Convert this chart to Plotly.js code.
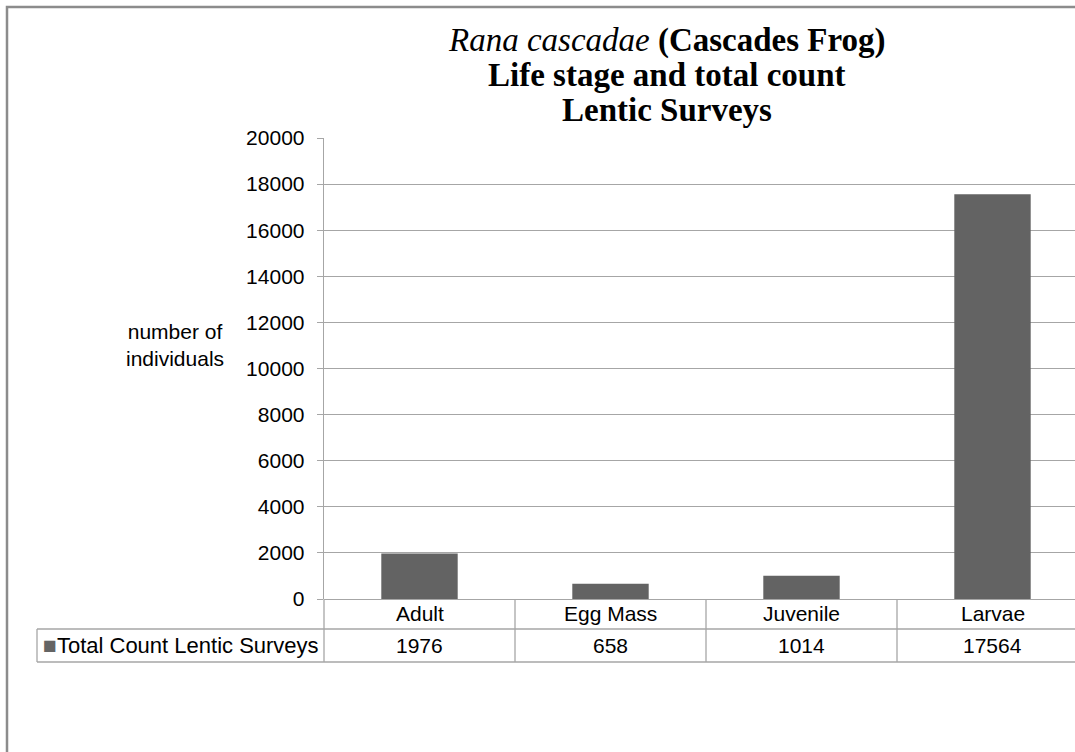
<!DOCTYPE html>
<html>
<head>
<meta charset="utf-8">
<script src="https://cdn.plot.ly/plotly-3.0.1.min.js"></script>
<style>html,body{margin:0;padding:0;background:#fff;overflow:hidden}#chart{width:1075px;height:752px}</style>
</head>
<body>
<div id="chart"></div>
<script>
// ---- data ----
const categories = ['Adult', 'Egg Mass', 'Juvenile', 'Larvae'];
const totalCount = [1976, 658, 1014, 17564];
const seriesName = 'Total Count Lentic Surveys';
const yTickVals = [0, 2000, 4000, 6000, 8000, 10000, 12000, 14000, 16000, 18000, 20000];
const titleLines = ['<i>Rana cascadae</i> <b>(Cascades Frog)</b>', '<b>Life stage and total count</b>', '<b>Lentic Surveys</b>'];
const yTitle = 'number of<br>individuals';

// ---- layout geometry (pixels) ----
const W = 1075, H = 752;
const plotL = 324, plotR = 1075, plotT = 138, plotB = 599;
const colW = 191;
const xRange = [-0.5, -0.5 + (plotR - plotL) / colW];
const px = v => (v - plotL) / (plotR - plotL);
const py = v => (plotB - v) / (plotB - plotT);
const catPaper = c => (c - xRange[0]) / (xRange[1] - xRange[0]);

const grid = '#a6a6a6';
const font = 'Liberation Sans, Arial, sans-serif';
const fs = 21;

const shapes = [];
// outer chart frame (top and left edges visible)
shapes.push({type: 'path', xref: 'paper', yref: 'paper',
  path: `M ${px(7)} ${py(H + 5)} L ${px(7)} ${py(7)} L ${px(W + 5)} ${py(7)}`,
  line: {color: '#8c8c8c', width: 2.5}});
// data table lines
const rowMid = 629, rowBot = 662, legL = 37;
[rowMid, rowBot].forEach(y => shapes.push({type: 'line', xref: 'paper', yref: 'paper',
  x0: px(legL), x1: 1.01, y0: py(y), y1: py(y), line: {color: grid, width: 1.3}}));
shapes.push({type: 'line', xref: 'paper', yref: 'paper', x0: px(legL), x1: px(legL),
  y0: py(rowMid), y1: py(rowBot), line: {color: grid, width: 1.3}});
for (let i = 0; i <= categories.length; i++) {
  const xp = catPaper(i - 0.5);
  shapes.push({type: 'line', xref: 'paper', yref: 'paper', x0: xp, x1: xp,
    y0: py(plotB), y1: py(rowBot), line: {color: grid, width: 1.3}});
}

const annotations = [];
const titleY = [40, 75, 110];
titleLines.forEach((t, i) => annotations.push({xref: 'paper', yref: 'paper', x: px(667), y: py(titleY[i]),
  text: t, showarrow: false, xanchor: 'center', yanchor: 'middle',
  font: {family: 'Liberation Serif, Times New Roman, serif', size: 33, color: '#000'}}));
annotations.push({xref: 'paper', yref: 'paper', x: px(175), y: py(345), text: yTitle, showarrow: false,
  xanchor: 'center', yanchor: 'middle', align: 'center', font: {family: font, size: fs, color: '#000'}});
categories.forEach((c, i) => {
  annotations.push({xref: 'x', yref: 'paper', x: i, y: py(613), text: c, showarrow: false,
    xanchor: 'center', yanchor: 'middle', font: {family: font, size: fs, color: '#000'}});
  annotations.push({xref: 'x', yref: 'paper', x: i, y: py(645), text: String(totalCount[i]), showarrow: false,
    xanchor: 'center', yanchor: 'middle', font: {family: font, size: fs, color: '#000'}});
});
annotations.push({xref: 'paper', yref: 'paper', x: px(321), y: py(645),
  text: '<span style="color:#646464;font-size:23px">■</span>' + seriesName, showarrow: false,
  xanchor: 'right', yanchor: 'middle', font: {family: font, size: 22, color: '#000'}});

const data = [{
  type: 'bar', x: categories.map((c, i) => i), y: totalCount, name: seriesName,
  width: 0.4, marker: {color: '#636363', line: {width: 0}}, hoverinfo: 'none'
}];

const layout = {
  width: W, height: H,
  margin: {l: plotL, r: W - plotR, t: plotT, b: H - plotB, pad: 0},
  paper_bgcolor: '#fff', plot_bgcolor: '#fff', showlegend: false,
  xaxis: {range: xRange, showticklabels: false, showgrid: false, zeroline: false, showline: false, ticks: '', fixedrange: true},
  yaxis: {range: [0, 20000], tickvals: yTickVals, ticktext: yTickVals.map(String),
    showgrid: true, gridcolor: grid, gridwidth: 1, zeroline: true, zerolinecolor: grid, zerolinewidth: 1,
    showline: true, linecolor: grid, linewidth: 1.3, ticks: 'outside', ticklen: 6, tickcolor: grid, tickwidth: 1,
    ticklabelstandoff: 8, tickfont: {family: font, size: fs, color: '#000'}, fixedrange: true},
  shapes: shapes, annotations: annotations, hovermode: false
};

Plotly.newPlot('chart', data, layout, {displayModeBar: false, staticPlot: true});
</script>
</body>
</html>
